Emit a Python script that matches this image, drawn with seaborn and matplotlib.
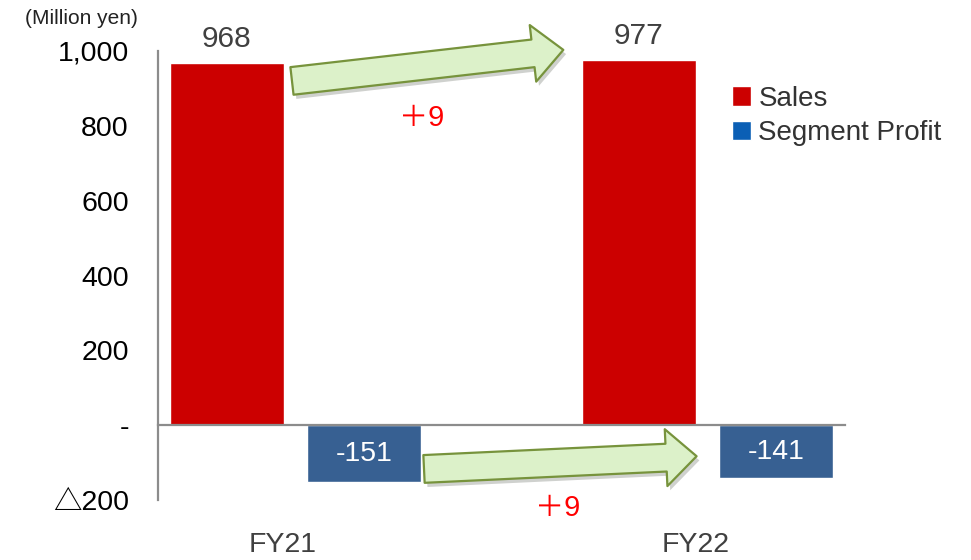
import numpy as np
import pandas as pd
import seaborn as sns
import matplotlib.pyplot as plt
from matplotlib.patches import FancyArrowPatch, ArrowStyle, Patch
import matplotlib.patheffects as pe

# data
years = ["FY21", "FY22"]
sales = [968, 977]
profit = [-151, -141]
delta_labels = ["＋9", "＋9"]
ytick_vals = [-200, 0, 200, 400, 600, 800, 1000]
ytick_text = ["△200", "-", "200", "400", "600", "800", "1,000"]

# colours
c_sales = "#CC0000"
c_profit = "#376092"
c_profit_legend = "#0B5FB5"

# five slots: sales / profit / gap / sales / profit
slots = ["FY21 Sales", "FY21 Profit", "gap", "FY22 Sales", "FY22 Profit"]
df = pd.DataFrame({
    "slot": ["FY21 Sales", "FY21 Profit", "FY22 Sales", "FY22 Profit"],
    "value": [sales[0], profit[0], sales[1], profit[1]],
    "series": ["Sales", "Segment Profit", "Sales", "Segment Profit"],
})

sns.set_theme(style="white")
plt.rcParams["font.family"] = ["Liberation Sans", "Noto Sans CJK JP", "DejaVu Sans"]

fig = plt.figure(figsize=(9.71, 5.6), dpi=100)
ax = fig.add_axes([158 / 971, 1 - 500 / 560, 687 / 971, 449 / 560])

sns.barplot(data=df, x="slot", y="value", hue="series", order=slots,
            palette={"Sales": c_sales, "Segment Profit": c_profit},
            dodge=False, width=0.83, saturation=1, legend=False, ax=ax)

ax.set_ylim(-200, 1000)
ax.set_xlim(-0.5, 4.5)
ax.set_xlabel("")
ax.set_ylabel("")

# axes styling: zero line as x axis
for s in ["top", "right"]:
    ax.spines[s].set_visible(False)
ax.spines["bottom"].set_position(("data", 0))
ax.spines["bottom"].set_color("#8c8c8c")
ax.spines["bottom"].set_linewidth(1.6)
ax.spines["left"].set_color("#8c8c8c")
ax.spines["left"].set_linewidth(1.6)
ax.set_xticks(np.arange(-0.5, 5, 1))
ax.set_xticklabels([])
ax.tick_params(axis="x", direction="out", length=5, width=1.5, color="#8c8c8c")
ax.set_yticks(ytick_vals)
ax.set_yticklabels(ytick_text, fontsize=20.5, color="black")
ax.tick_params(axis="y", direction="out", length=7, width=1.5, color="#8c8c8c", pad=14)

# unit label
fig.text(25 / 971, 1 - 19 / 560, "(Million yen)", fontsize=15, color="#222222",
         ha="left", va="center")

# data labels
sales_x = [0, 3]
profit_x = [1, 4]
for x, v in zip(sales_x, sales):
    ax.text(x, v + 26, f"{v:,}", ha="center", va="bottom", fontsize=21.5, color="#404040")
for x, v in zip(profit_x, profit):
    ax.text(x, v / 2 - 2, f"{v}", ha="center", va="center", fontsize=20.5, color="white")

# year labels under the axis
for x, lab in zip([0.5, 3.5], years):
    ax.text(x - 0.09, -0.1, lab, transform=ax.get_xaxis_transform(),
            ha="center", va="center", fontsize=20.5, color="#404040")

# green change arrows
style = ArrowStyle.Simple(head_length=22, head_width=41, tail_width=20)
arrows = [
    ((0.475, sales[0] - 48), (2.45, sales[1] + 26)),
    ((1.436, profit[0] + 34), (3.42, profit[1] + 58)),
]
for (p0, p1) in arrows:
    arr = FancyArrowPatch(p0, p1, arrowstyle=style, mutation_scale=1,
                          facecolor="#dcf1c9", edgecolor="#77933C", linewidth=1.6,
                          zorder=5, shrinkA=0, shrinkB=0, clip_on=False)
    arr.set_path_effects([pe.SimplePatchShadow(offset=(2, -3), alpha=0.25), pe.Normal()])
    ax.add_patch(arr)

# change labels
ax.text(1.42, 820, delta_labels[0], ha="center", va="center", fontsize=21, color="#FF0000")
ax.text(2.41, -222, delta_labels[1], ha="center", va="center", fontsize=21, color="#FF0000",
        clip_on=False)

# legend
handles = [Patch(facecolor=c_sales, label="Sales"),
           Patch(facecolor=c_profit_legend, label="Segment Profit")]
fig.legend(handles=handles, loc="upper left", bbox_to_anchor=(718 / 971, 1 - 72 / 560),
           frameon=False, fontsize=20, handlelength=0.7, handleheight=0.7,
           handletextpad=0.25, labelspacing=0.3, borderpad=0, labelcolor="#333333")

fig.savefig("out.png", dpi=100)
